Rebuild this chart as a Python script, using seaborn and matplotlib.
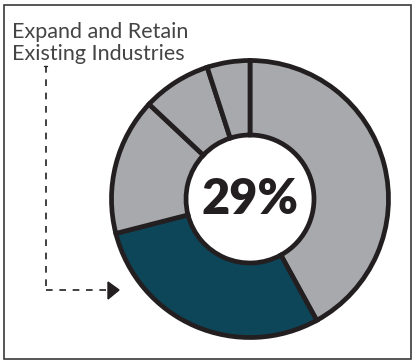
import matplotlib
matplotlib.use("Agg")
import matplotlib.pyplot as plt
import seaborn as sns
from matplotlib.patches import Rectangle

sns.set_style("white")
plt.rcParams['font.family'] = ['Lato', 'DejaVu Sans']

shares = [42, 29, 16, 8, 5]
colors = ["#a7a9ac", "#0d4559", "#a7a9ac", "#a7a9ac", "#a7a9ac"]
label_text = "Expand and Retain\nExisting Industries"
center_text = "29%"

W, H = 414, 360
fig = plt.figure(figsize=(W / 100, H / 100), dpi=100)
fig.patch.set_facecolor("white")

# frame
fig.add_artist(Rectangle((4.5 / W, 1.5 / H), 406.5 / W, 354 / H, transform=fig.transFigure,
                         fill=False, edgecolor="#3a3a3a", linewidth=1.2))

cx, cy, R = 250, H - 199, 141
ax = fig.add_axes([(cx - R) / W, (cy - R) / H, 2 * R / W, 2 * R / H])
ax.axis("off")

r_out = 138.5 / R
r_in = 64 / R
ax.pie(shares, colors=colors, startangle=90, counterclock=False, radius=r_out,
       wedgeprops=dict(width=r_out - r_in, edgecolor="#231f20", linewidth=3.4, joinstyle="miter"))
ax.set_xlim(-1, 1)
ax.set_ylim(-1, 1)
ax.set_aspect("auto")

ax.text(0, 0, center_text, ha="center", va="center", fontsize=35, fontweight="heavy",
        color="#231f20")

fig.text(12 / W, 1 - 22 / H, label_text, ha="left", va="top", fontsize=15.5,
         fontweight="normal", color="#444444", linespacing=1.1)

# dashed connector
fig.add_artist(plt.Line2D([44.5 / W, 47.5 / W], [1 - 66 / H, 1 - 66 / H], transform=fig.transFigure,
                          color="#231f20", linewidth=1.0))
fig.add_artist(plt.Line2D([46 / W, 46 / W], [1 - 66 / H, 1 - 290 / H], transform=fig.transFigure,
                          color="#231f20", linewidth=1.2, linestyle=(0, (4, 4))))
fig.add_artist(plt.Line2D([46 / W, 108 / W], [1 - 290 / H, 1 - 290 / H], transform=fig.transFigure,
                          color="#231f20", linewidth=1.2, linestyle=(0, (4, 4))))
fig.add_artist(plt.Polygon([[108 / W, 1 - 282 / H], [119 / W, 1 - 290 / H], [108 / W, 1 - 299 / H]],
                           closed=True, transform=fig.transFigure, color="#231f20"))

fig.savefig("out.png", dpi=100, facecolor="white")
